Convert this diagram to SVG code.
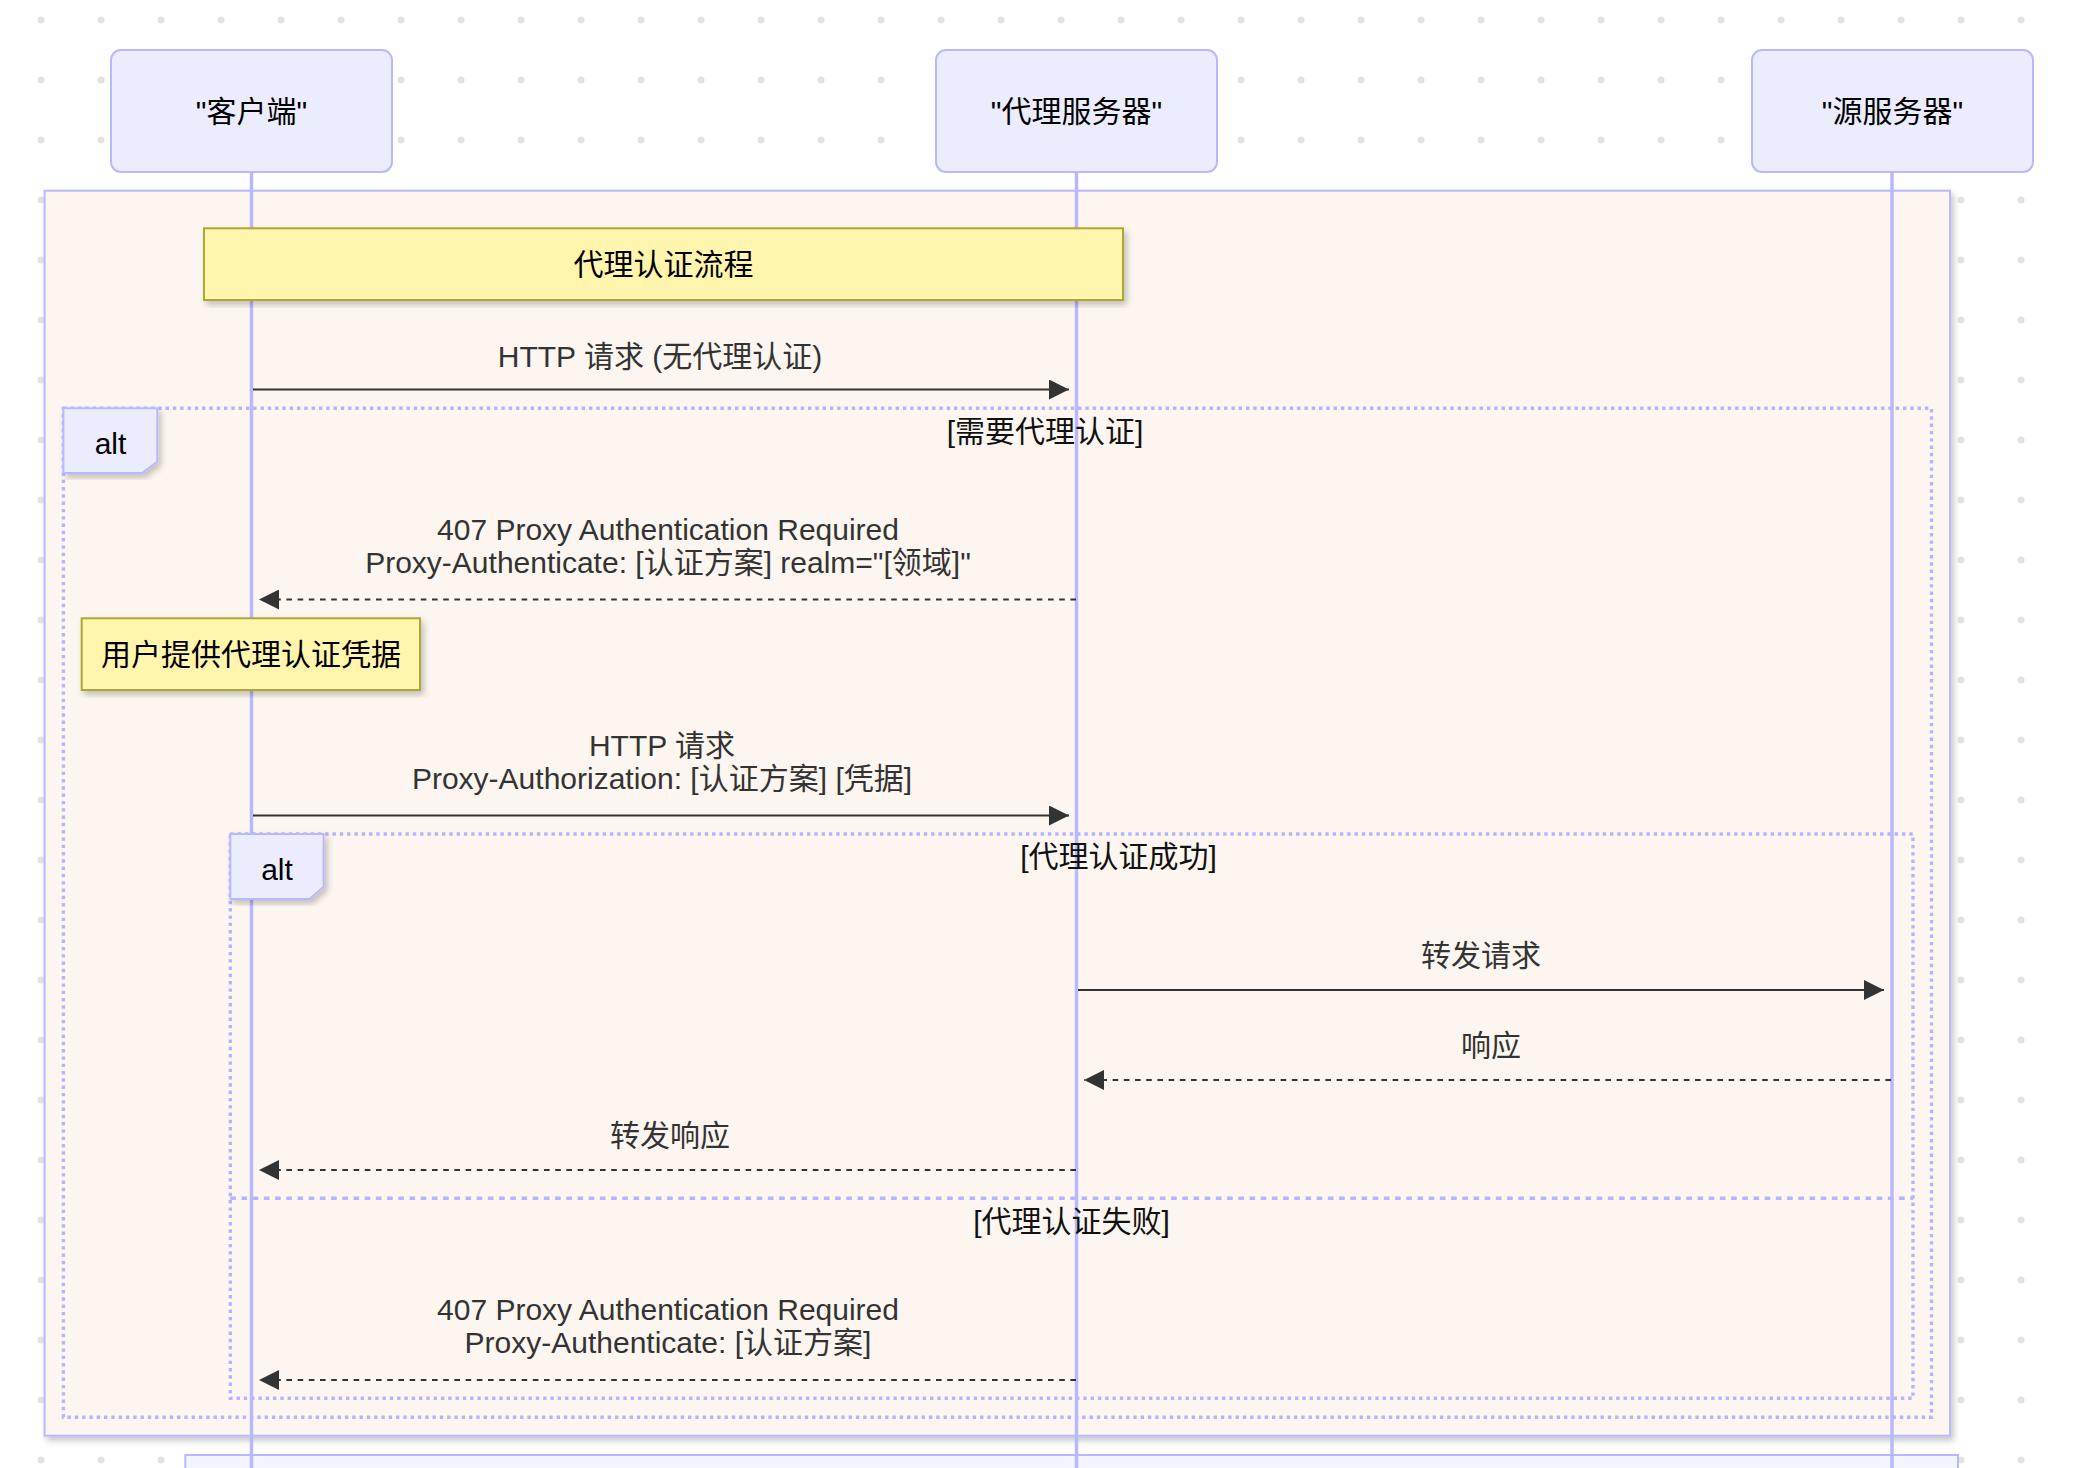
<svg xmlns="http://www.w3.org/2000/svg" width="2076" height="1468" viewBox="0 0 2076 1468">
<defs>
<pattern id="dots" patternUnits="userSpaceOnUse" x="0" y="0" width="60" height="60">
<circle cx="41" cy="20" r="3.5" fill="#e2e2e2"/>
</pattern>
<filter id="shadow" x="-5%" y="-5%" width="115%" height="115%">
<feDropShadow dx="3" dy="4" stdDeviation="3" flood-color="#000" flood-opacity="0.22"/>
</filter>
<marker id="arrow" markerUnits="userSpaceOnUse" markerWidth="20" markerHeight="20" refX="20" refY="10" orient="auto">
<path d="M0,0 L20,10 L0,20 z" fill="#333"/>
</marker>
<style>
.actor{fill:#ECECFF;stroke:#B8B8FF;stroke-width:2}
.actorText{font-family:"Liberation Sans","Noto Sans CJK SC",sans-serif;font-size:30px;fill:#000;text-anchor:middle}
.lifeline{stroke:#B8B8FF;stroke-width:3.5}
.note{fill:#FFF5AD;stroke:#AAAA33;stroke-width:2}
.noteText{font-family:"Liberation Sans","Noto Sans CJK SC",sans-serif;font-size:30px;fill:#000;text-anchor:middle}
.frame{fill:none;stroke:#B4B4FF;stroke-width:3.4;stroke-dasharray:3.4 3.9}
.sep{fill:none;stroke:#B4B4FF;stroke-width:3.4;stroke-dasharray:5.6 5.6}
.labelBox{fill:#ECECFF;stroke:#B8B8FF;stroke-width:2}
.labelText{font-family:"Liberation Sans","Noto Sans CJK SC",sans-serif;font-size:30px;fill:#000;text-anchor:middle}
.sectText{font-family:"Liberation Sans","Noto Sans CJK SC",sans-serif;font-size:30px;fill:#111;text-anchor:middle}
.msg{stroke:#333;stroke-width:2;fill:none}
.dashed{stroke-dasharray:5.6 5.6}
.msgText{font-family:"Liberation Sans","Noto Sans CJK SC",sans-serif;font-size:30px;fill:#333;text-anchor:middle}
</style>
</defs>
<rect x="0" y="0" width="2076" height="1468" fill="#ffffff"/>
<rect x="0" y="0" width="2076" height="1468" fill="url(#dots)"/>

<g id="rect-block">
<rect x="44.6" y="190.7" width="1905.4" height="1245" fill="#FDF6F0" stroke="#B8B8FF" stroke-width="2" filter="url(#shadow)"/>
</g>
<g id="rect-block-2">
<rect x="185.3" y="1455" width="1772.7" height="40" fill="#F4F4FE" stroke="#B8B8FF" stroke-width="2"/>
</g>

<g id="actor-client">
<rect class="actor" x="111" y="50" width="281" height="122" rx="10" ry="10"/>
<text class="actorText" x="251.5" y="122">"客户端"</text>
</g>
<g id="actor-proxy">
<rect class="actor" x="936" y="50" width="281" height="122" rx="10" ry="10"/>
<text class="actorText" x="1076.5" y="122">"代理服务器"</text>
</g>
<g id="actor-origin">
<rect class="actor" x="1752" y="50" width="281" height="122" rx="10" ry="10"/>
<text class="actorText" x="1892.5" y="122">"源服务器"</text>
</g>

<g id="frame-alt-outer">
<rect class="frame" x="63.4" y="408.3" width="1868.1" height="1009"/>
</g>
<g id="frame-alt-inner">
<rect class="frame" x="230.3" y="834" width="1682.7" height="564.3"/>
<line class="sep" x1="230.3" y1="1198.3" x2="1913" y2="1198.3"/>
</g>

<g id="lifelines">
<line class="lifeline" x1="251.5" y1="172" x2="251.5" y2="1468"/>
<line class="lifeline" x1="1076.5" y1="172" x2="1076.5" y2="1468"/>
<line class="lifeline" x1="1892" y1="172" x2="1892" y2="1468"/>
</g>

<g id="alt-outer-label">
<polygon class="labelBox" points="63.4,408.3 157.3,408.3 157.3,461.5 142.3,473 63.4,473" filter="url(#shadow)"/>
<text class="labelText" x="110.5" y="454">alt</text>
<text class="sectText" x="1045" y="442">[需要代理认证]</text>
</g>
<g id="alt-inner-label">
<polygon class="labelBox" points="230.3,834 323.6,834 323.6,886.7 309.4,899 230.3,899" filter="url(#shadow)"/>
<text class="labelText" x="277" y="880">alt</text>
<text class="sectText" x="1118.5" y="867">[代理认证成功]</text>
<text class="sectText" x="1071.6" y="1232">[代理认证失败]</text>
</g>

<g id="note-flow">
<rect class="note" x="204" y="228.3" width="919" height="71.7" filter="url(#shadow)"/>
<text class="noteText" x="663.5" y="275">代理认证流程</text>
</g>
<g id="note-credentials">
<rect class="note" x="81.7" y="618.3" width="338.3" height="71.7" filter="url(#shadow)"/>
<text class="noteText" x="251" y="665">用户提供代理认证凭据</text>
</g>

<g id="connectors">
<g id="msg1">
<line class="msg" x1="253" y1="389.5" x2="1069" y2="389.5" marker-end="url(#arrow)"/>
<text class="msgText" x="660" y="367">HTTP 请求 (无代理认证)</text>
</g>
<g id="msg2">
<line class="msg dashed" x1="1076" y1="599.5" x2="259" y2="599.5" marker-end="url(#arrow)"/>
<text class="msgText" x="668" y="540">407 Proxy Authentication Required</text>
<text class="msgText" x="668" y="573">Proxy-Authenticate: [认证方案] realm="[领域]"</text>
</g>
<g id="msg3">
<line class="msg" x1="253" y1="815.5" x2="1069" y2="815.5" marker-end="url(#arrow)"/>
<text class="msgText" x="662" y="756">HTTP 请求</text>
<text class="msgText" x="662" y="789">Proxy-Authorization: [认证方案] [凭据]</text>
</g>
<g id="msg4">
<line class="msg" x1="1078" y1="990" x2="1884" y2="990" marker-end="url(#arrow)"/>
<text class="msgText" x="1481" y="966">转发请求</text>
</g>
<g id="msg5">
<line class="msg dashed" x1="1891" y1="1080" x2="1084" y2="1080" marker-end="url(#arrow)"/>
<text class="msgText" x="1491" y="1056">响应</text>
</g>
<g id="msg6">
<line class="msg dashed" x1="1076" y1="1170" x2="259" y2="1170" marker-end="url(#arrow)"/>
<text class="msgText" x="670" y="1146">转发响应</text>
</g>
<g id="msg7">
<line class="msg dashed" x1="1076" y1="1380" x2="259" y2="1380" marker-end="url(#arrow)"/>
<text class="msgText" x="668" y="1320">407 Proxy Authentication Required</text>
<text class="msgText" x="668" y="1353">Proxy-Authenticate: [认证方案]</text>
</g>
</g>
</svg>
